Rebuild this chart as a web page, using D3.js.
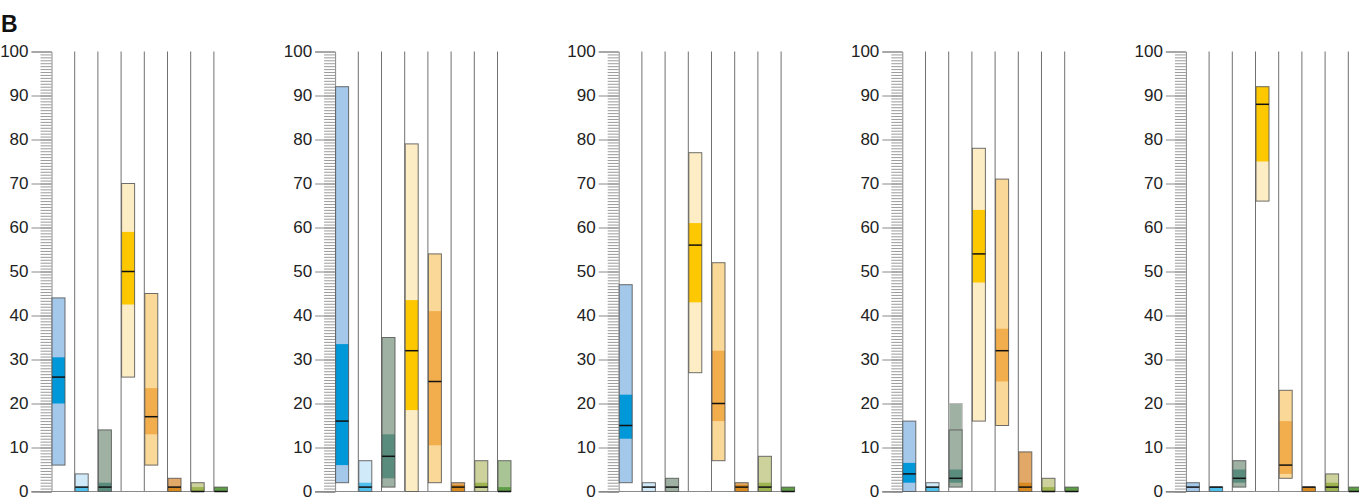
<html>
<head>
<style>
body { margin: 0; background: #fff; }
svg { font-family: 'Liberation Sans', Arial, sans-serif; }
</style>
</head>
<body>
<svg></svg>
<script src="https://d3js.org/d3.v7.min.js"></script>
<script>

// one column per category, colours light (outer range) / dark (inner range)
const outerColors = ['#a3c8ea', '#d0eaf9', '#9fb1a2', '#fdedc4', '#fad898', '#e2a868', '#cdd19c', '#a9c596'];
const innerColors = ['#0098d8', '#50c0ec', '#5a8c7e', '#fdc800', '#f2ae4c', '#d88a20', '#9db450', '#5e9c48'];

// per panel, per column
const outerLo = [
    [6, 0, 0, 26, 6, 0, 0, 0],
    [2, 0, 1, 0, 2, 0, 0, 0],
    [2, 0, 0, 27, 7, 0, 0, 0],
    [0, 0, 1, 16, 15, 0, 0, 0],
    [0, 0, 1, 66, 3, 0, 0, 0],
];
const outerHi = [
    [44, 4, 14, 70, 45, 3, 2, 1],
    [92, 7, 35, 79, 54, 2, 7, 7],
    [47, 2, 3, 77, 52, 2, 8, 1],
    [16, 2, 14, 78, 71, 9, 3, 1],
    [2, 1, 7, 92, 23, 1, 4, 1],
];
const outerExt = [
    [null, null, null, null, null, null, null, null],
    [null, null, null, null, null, null, null, null],
    [null, null, null, null, null, null, null, null],
    [null, null, 20, null, null, null, null, null],
    [null, null, null, null, null, null, null, null],
];
const innerLo = [
    [20, 0, 0, 42.5, 13, 0, 0, 0],
    [6, 0, 3, 18.5, 10.5, 0, 0.8, 0],
    [12, 1, 1, 43, 16, 0, 0, 0],
    [2, 0, 2, 47.5, 25, 0, 0, 0],
    [1, 0, 2, 75, 4, 0, 0, 0],
];
const innerHi = [
    [30.5, 1, 2, 59, 23.5, 1, 1, 1],
    [33.5, 2, 13, 43.5, 41, 1.5, 2, 1],
    [22, 1, 1, 61, 32, 1.5, 2, 1],
    [6.5, 1, 5, 64, 37, 2, 1, 1],
    [1, 1, 5, 92, 16, 1, 2, 1],
];
const medians = [
    [26, 1, 1, 50, 17, 1, 0, 0],
    [16, 1, 8, 32, 25, 1, 1, 0],
    [15, 1, 1, 56, 20, 1, 1, 0],
    [4, 1, 3, 54, 32, 1, 0, 0],
    [1, 1, 3, 88, 6, 1, 1, 0],
];
const majorTicks = [0, 10, 20, 30, 40, 50, 60, 70, 80, 90, 100];

const width = 1359;
const height = 498;
const panelX0 = 51.5;
const panelStep = 283.6;
const colW = 23.2;
const barW = 13;

const svg = d3.select('svg')
    .attr('width', width)
    .attr('height', height);

svg.append('text')
    .attr('x', 1)
    .attr('y', 32)
    .style('font-size', '23px')
    .style('font-weight', 'bold')
    .style('fill', '#111')
    .text('B');

const y = d3.scaleLinear()
    .domain([0, 100])
    .range([491.5, 51.5]);

const minorTicks = d3.range(0, 150).map(i => i * 2 / 3);

outerLo.forEach((lo, p) => {
    const g = svg.append('g')
        .attr('transform', `translate(${panelX0 + p * panelStep}, 0)`);

    const x = d3.scaleLinear().domain([0, 1]).range([0, colW]);

    // minor ticks
    g.append('g')
        .call(d3.axisLeft(y).tickValues(minorTicks).tickSize(11).tickFormat(''))
        .call(a => a.select('.domain').remove())
        .selectAll('line').attr('stroke', '#9a9a9a');

    // major ticks + labels
    g.append('g')
        .call(d3.axisLeft(y).tickValues(majorTicks).tickSize(20).tickPadding(3))
        .call(a => a.select('.domain').attr('stroke', '#8a8a8a'))
        .call(a => a.selectAll('line').attr('stroke', '#8a8a8a'))
        .call(a => a.selectAll('text')
            .style('font-family', "'Liberation Sans', Arial, sans-serif")
            .style('font-size', '17px')
            .attr('fill', '#222'));

    // column separators
    g.append('g').selectAll('line')
        .data(d3.range(1, 8))
        .join('line')
        .attr('x1', d => x(d)).attr('x2', d => x(d))
        .attr('y1', y(0)).attr('y2', y(100))
        .attr('stroke', '#707070')
        .attr('stroke-width', 1);

    // baseline
    g.append('line')
        .attr('x1', -20).attr('x2', x(7) + barW)
        .attr('y1', y(0)).attr('y2', y(0))
        .attr('stroke', '#8a8a8a');

    const cols = d3.range(8).map(i => ({
        i: i,
        lo: lo[i], hi: outerHi[p][i], ext: outerExt[p][i],
        ilo: innerLo[p][i], ihi: innerHi[p][i], med: medians[p][i],
    }));

    const bars = g.append('g').selectAll('g')
        .data(cols)
        .join('g')
        .attr('transform', d => `translate(${x(d.i) + 0.5}, 0)`);

    // upper extension (lighter)
    bars.filter(d => d.ext != null).append('rect')
        .attr('x', 0).attr('width', barW)
        .attr('y', d => y(d.ext))
        .attr('height', d => y(d.hi) - y(d.ext))
        .attr('fill', d => outerColors[d.i])
        .attr('stroke', '#bbb')
        .attr('stroke-width', 1);

    bars.append('rect')
        .attr('x', 0).attr('width', barW)
        .attr('y', d => y(d.hi))
        .attr('height', d => y(d.lo) - y(d.hi))
        .attr('fill', d => outerColors[d.i]);

    bars.append('rect')
        .attr('x', 0).attr('width', barW)
        .attr('y', d => y(d.ihi))
        .attr('height', d => y(d.ilo) - y(d.ihi))
        .attr('fill', d => innerColors[d.i]);

    bars.append('rect')
        .attr('x', 0).attr('width', barW)
        .attr('y', d => y(d.hi))
        .attr('height', d => y(d.lo) - y(d.hi))
        .attr('fill', 'none')
        .attr('stroke', '#555')
        .attr('stroke-opacity', 0.85)
        .attr('stroke-width', 1);

    bars.append('line')
        .attr('x1', 0).attr('x2', barW)
        .attr('y1', d => y(d.med)).attr('y2', d => y(d.med))
        .attr('stroke', '#111')
        .attr('stroke-width', 1.5);
});

</script>
</body>
</html>
